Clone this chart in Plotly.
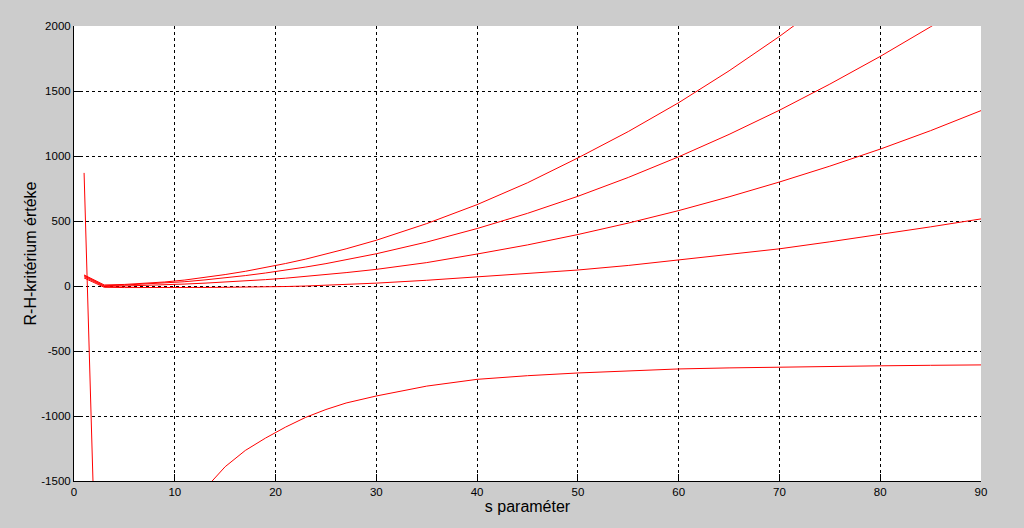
import plotly.graph_objects as go

s_values = [1, 3, 5, 7, 9, 11, 13, 15, 17, 19, 21, 23, 25, 27, 30,
            35, 40, 45, 50, 55, 60, 65, 70, 75, 80, 85, 90]

curve_a = [85, 8, 12, 20, 31, 46, 65, 88, 113, 141, 173, 207, 245, 286, 352,
           480, 626, 794, 985, 1188, 1410, 1655, 1920, 2205, 2510, 2830, 3175]
curve_b = [80, 2, 7, 14, 22, 33, 47, 62, 80, 100, 122, 146, 172, 201, 248,
           338, 442, 559, 690, 835, 994, 1166, 1352, 1553, 1766, 1994, 2236]
curve_c = [72, -4, 0, 4, 9, 15, 22, 30, 39, 49, 60, 73, 88, 103, 128,
           180, 246, 316, 396, 484, 580, 686, 800, 922, 1053, 1195, 1349]
curve_d = [62, -10, -12, -13, -13, -12, -11, -10, -9, -7, -4, 0, 5, 11, 22,
           44, 72, 96, 123, 158, 199, 240, 286, 340, 396, 455, 516]
curve_e = [870, -4500, -3200, -2500, -2080, -1780, -1560, -1390, -1265, -1170, -1085, -1010, -950, -900, -846,
           -770, -718, -690, -669, -652, -638, -630, -623, -618, -614, -610, -607]

x_ticks = [0, 10, 20, 30, 40, 50, 60, 70, 80, 90]
y_ticks = [-1500, -1000, -500, 0, 500, 1000, 1500, 2000]
y_tick_labels = ["-1500", "-1000", "-500", "0", "500", "1000", "1500", "2000"]

fig = go.Figure()
for ys in [curve_a, curve_b, curve_c, curve_d, curve_e]:
    fig.add_trace(go.Scatter(x=s_values, y=ys, mode="lines",
                             line=dict(color="#ff0000", width=1),
                             showlegend=False, hoverinfo="skip"))

axis_common = dict(
    showgrid=True, gridcolor="#000000", griddash="dot", gridwidth=1,
    zeroline=False, showline=True, linecolor="#000000", linewidth=1,
    ticks="inside", ticklen=7, tickcolor="#000000", mirror=False,
    tickfont=dict(family="Liberation Sans, Arial, sans-serif", size=11.5, color="#000000"),
)

fig.update_layout(
    width=1024, height=528,
    margin=dict(l=74, r=43, t=26, b=47),
    paper_bgcolor="#cccccc", plot_bgcolor="#ffffff",
    font=dict(family="Liberation Sans, Arial, sans-serif", color="#000000"),
    xaxis=dict(range=[0, 90], tickvals=x_ticks,
               title=dict(text="s paraméter", font=dict(size=16), standoff=4),
               **axis_common),
    yaxis=dict(range=[-1500, 2000], tickvals=y_ticks, ticktext=y_tick_labels,
               title=dict(text="R-H-kritérium értéke", font=dict(size=16), standoff=0),
               **axis_common),
)

fig.write_html("out.html",
               config={"displayModeBar": False},
               post_script="document.body.style.margin='0';document.body.style.background='#cccccc';")
